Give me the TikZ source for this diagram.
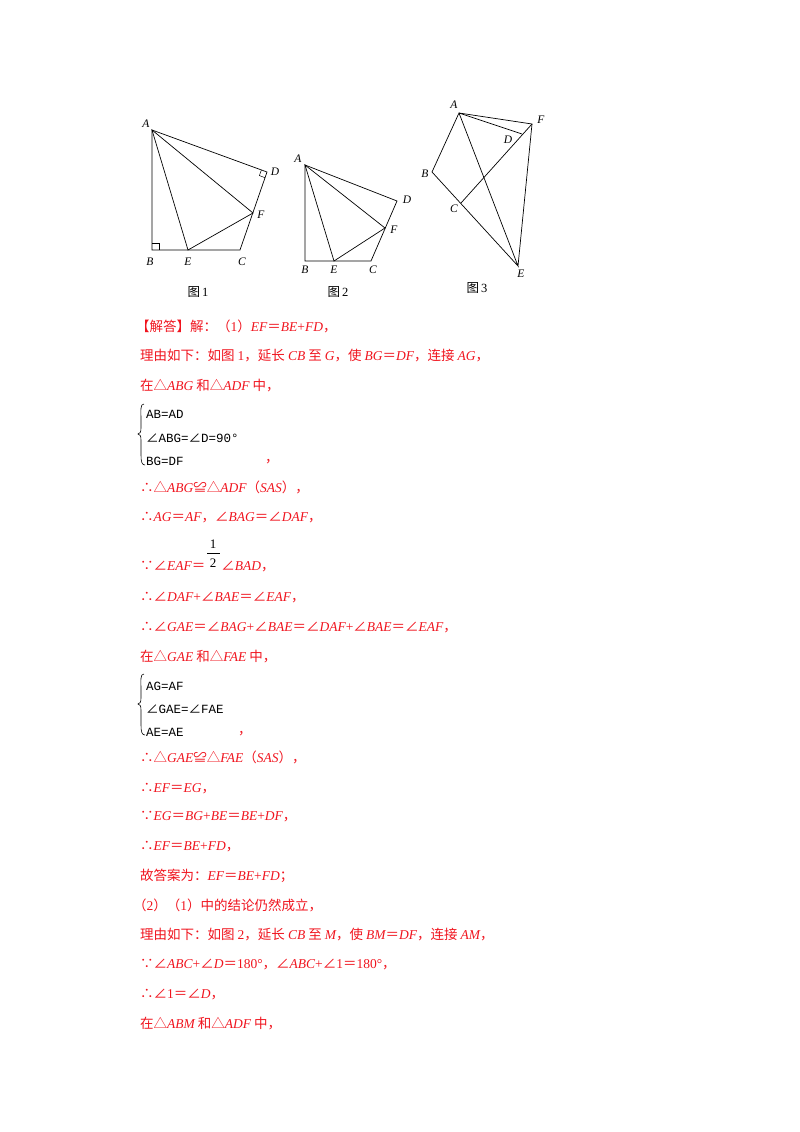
\documentclass[tikz,border=0pt]{standalone}
\usepackage{fontspec}
\setmainfont{Noto Sans CJK SC}
\newfontfamily\lsr{Liberation Serif}
\newfontfamily\lsi{Liberation Serif}[UprightFont=* Italic]
\newfontfamily\lmono{Liberation Mono}
\newfontfamily\cjk{Noto Sans CJK SC}
\newcommand{\I}[1]{{\lsi #1}}
\newcommand{\R}[1]{{\lsr #1}}
\newcommand{\ang}{{\cjk ∠}}
\definecolor{ansred}{RGB}{240,20,30}
\begin{document}
\begin{tikzpicture}[x=1pt,y=-1pt,
  fig/.style={line width=0.7pt,black},
  lab/.style={font=\fontsize{11.5}{11.5}\lsi,inner sep=0pt},
  figcap/.style={font=\fontsize{12.5}{12.5}\cjk,inner sep=0pt},
  ln/.style={anchor=base west,inner sep=0pt,text=ansred,font=\fontsize{13.5}{14}\cjk},
  bl/.style={anchor=base west,inner sep=0pt,text=black,font=\fontsize{12.5}{12.5}\lmono}]
\useasboundingbox (0,0) rectangle (800,1132);
% ---------- figure 1
\coordinate (A1) at (152,130); \coordinate (B1) at (152,250); \coordinate (E1) at (188,250);
\coordinate (C1) at (240,250); \coordinate (D1) at (267,172); \coordinate (F1) at (253,213);
\draw[fig] (A1)--(B1)--(C1)--(D1)--cycle; \draw[fig] (A1)--(E1)--(F1)--cycle;
\draw[fig,line width=0.5pt] (152,243)--(159,243)--(159,250);
\draw[fig,line width=0.5pt] (261.4,169.9)--(259.4,175.6)--(265,177.7);
\node[lab] (lA1) at (146,124) {A}; \node[lab] (lB1) at (150,262) {B}; \node[lab] (lE1) at (188,262) {E};
\node[lab] (lC1) at (242,262) {C}; \node[lab] (lD1) at (275,172) {D}; \node[lab] (lF1) at (261,215) {F};
\node[figcap] (c1) at (198,292) {图\,\R{1}};
% ---------- figure 2
\coordinate (A2) at (305,165); \coordinate (B2) at (305,261); \coordinate (E2) at (334,261);
\coordinate (C2) at (371,261); \coordinate (D2) at (397,201); \coordinate (F2) at (385,228);
\draw[fig] (A2)--(B2)--(C2)--(D2)--cycle; \draw[fig] (A2)--(E2)--(F2)--cycle;
\node[lab] (lA2) at (298,159) {A}; \node[lab] (lB2) at (305,270) {B}; \node[lab] (lE2) at (334,270) {E};
\node[lab] (lC2) at (373,270) {C}; \node[lab] (lD2) at (407,200) {D}; \node[lab] (lF2) at (394,230) {F};
\node[figcap] (c2) at (338,292) {图\,\R{2}};
% ---------- figure 3
\coordinate (A3) at (459,113); \coordinate (F3) at (532,124); \coordinate (D3) at (522,134);
\coordinate (B3) at (432,172); \coordinate (C3) at (461,203); \coordinate (E3) at (518,266);
\draw[fig] (A3)--(B3)--(E3)--(A3)--(F3)--(E3); \draw[fig] (A3)--(D3); \draw[fig] (C3)--(F3);
\node[lab] (lA3) at (454,105) {A}; \node[lab] (lF3) at (541,120) {F}; \node[lab] (lD3) at (508,140) {D};
\node[lab] (lB3) at (425,174) {B}; \node[lab] (lC3) at (454,209) {C}; \node[lab] (lE3) at (521,274) {E};
\node[figcap] (c3) at (477,288) {图\,\R{3}};
% ---------- text
\node[ln] (t1) at (136,331) {【解答】解：（\R{1}）\I{EF}＝\I{BE}\R{+}\I{FD}，};
\node[ln] (t2) at (140,360) {理由如下：如图 \R{1}，延长 \I{CB} 至 \I{G}，使 \I{BG}＝\I{DF}，连接 \I{AG}，};
\node[ln] (t3) at (140,390) {在△\I{ABG} 和△\I{ADF} 中，};
\draw[line width=0.6pt] (144,404) .. controls (140,404) and (141,410) .. (141,420) -- (141,428) .. controls (141,432) and (140,434) .. (138,434)
  .. controls (140,434) and (141,436) .. (141,440) -- (141,455) .. controls (141,462) and (142,465) .. (145,465);
\node[bl] (b1) at (146,418) {AB=AD};
\node[bl] (b2) at (146,442) {\ang ABG=\ang D=90°};
\node[bl] (b3) at (146,465) {BG=DF};
\node[ln] (b4) at (265,462) {，};
\node[ln] (t4) at (140,492) {∴△\I{ABG}≌△\I{ADF}（\I{SAS}），};
\node[ln] (t5) at (140,521) {∴\I{AG}＝\I{AF}，∠\I{BAG}＝∠\I{DAF}，};
\node[ln] (t6) at (140,570) {∵∠\I{EAF}＝\hspace{16pt}∠\I{BAD}，};
\node[inner sep=0pt,font=\fontsize{13}{13}\lsr] (n1) at (213,544) {1};
\draw[line width=0.6pt] (207,553)--(220,553);
\node[inner sep=0pt,font=\fontsize{13}{13}\lsr] (n2) at (213,563) {2};
\node[ln] (t7) at (140,601) {∴∠\I{DAF}\R{+}∠\I{BAE}＝∠\I{EAF}，};
\node[ln] (t8) at (140,631) {∴∠\I{GAE}＝∠\I{BAG}\R{+}∠\I{BAE}＝∠\I{DAF}\R{+}∠\I{BAE}＝∠\I{EAF}，};
\node[ln] (t9) at (140,661) {在△\I{GAE} 和△\I{FAE} 中，};
\draw[line width=0.6pt] (144,674) .. controls (140,674) and (141,680) .. (141,690) -- (141,698) .. controls (141,702) and (140,704) .. (138,704)
  .. controls (140,704) and (141,706) .. (141,710) -- (141,725) .. controls (141,732) and (142,735) .. (145,735);
\node[bl] (b5) at (146,690) {AG=AF};
\node[bl] (b6) at (146,713) {\ang GAE=\ang FAE};
\node[bl] (b7) at (146,736) {AE=AE};
\node[ln] (b8) at (238,734) {，};
\node[ln] (t10) at (140,762) {∴△\I{GAE}≌△\I{FAE}（\I{SAS}），};
\node[ln] (t11) at (140,792) {∴\I{EF}＝\I{EG}，};
\node[ln] (t12) at (140,820) {∵\I{EG}＝\I{BG}\R{+}\I{BE}＝\I{BE}\R{+}\I{DF}，};
\node[ln] (t13) at (140,850) {∴\I{EF}＝\I{BE}\R{+}\I{FD}，};
\node[ln] (t14) at (140,880) {故答案为：\I{EF}＝\I{BE}\R{+}\I{FD}；};
\node[ln] (t15) at (133,910) {（\R{2}）（\R{1}）中的结论仍然成立，};
\node[ln] (t16) at (140,939) {理由如下：如图 \R{2}，延长 \I{CB} 至 \I{M}，使 \I{BM}＝\I{DF}，连接 \I{AM}，};
\node[ln] (t17) at (140,968) {∵∠\I{ABC}\R{+}∠\I{D}＝\R{180°}，∠\I{ABC}\R{+}∠\R{1}＝\R{180°}，};
\node[ln] (t18) at (140,998) {∴∠\R{1}＝∠\I{D}，};
\node[ln] (t19) at (140,1028) {在△\I{ABM} 和△\I{ADF} 中，};
\end{tikzpicture}
\end{document}
